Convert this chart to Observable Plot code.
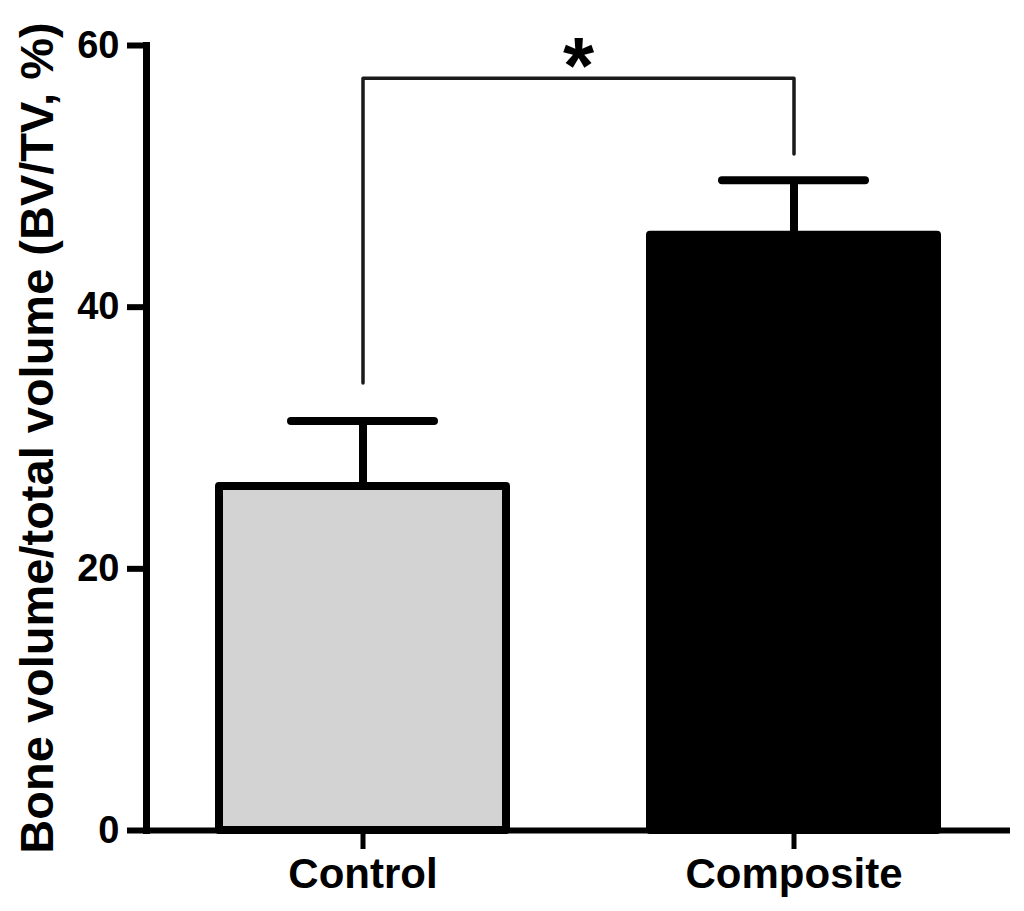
<!DOCTYPE html>
<html>
<head>
<meta charset="utf-8">
<script src="https://cdn.jsdelivr.net/npm/d3@7"></script>
<script src="https://cdn.jsdelivr.net/npm/@observablehq/plot@0.6"></script>
<style>
  html, body { margin: 0; padding: 0; background: #fff; }
</style>
</head>
<body>
<div id="chart"></div>
<script>
const groups = ["Control", "Composite"];
const means = [26.3, 45.5];
const errors = [5.0, 4.2];
const fills = ["#d3d3d3", "#000000"];
const yTicks = [0, 20, 40, 60];
const yLabel = "Bone volume/total volume (BV/TV, %)";
const bracketX = ["Control", "Control", "Composite", "Composite"];
const bracketY = [34.2, 57.5, 57.5, 51.7];
const sigLabel = "*";
const sigY = [58.3];

const bars = groups.map((g, i) => ({group: g, mean: means[i], top: means[i] + errors[i], fill: fills[i]}));
const bracket = bracketX.map((x, i) => ({x, y: bracketY[i]}));

const font = "'Liberation Sans', Arial, sans-serif";

const chart = Plot.plot({
  width: 1024,
  height: 911,
  marginLeft: 146,
  marginRight: 14,
  marginTop: 45,
  marginBottom: 81,
  style: {fontFamily: font, background: "#fff", color: "#000"},
  x: {domain: groups, paddingInner: 0.334, paddingOuter: 0.169, axis: null},
  y: {domain: [0, 60], axis: null},
  marks: [
    Plot.ruleX(bars, {x: "group", y1: "mean", y2: "top", stroke: "#000", strokeWidth: 8}),
    Plot.tickY(bars, {x: "group", y: "top", stroke: "#000", strokeWidth: 8, strokeLinecap: "round", insetLeft: 72, insetRight: 72}),
    Plot.barY(bars, {x: "group", y: "mean", fill: "fill", stroke: "#000", strokeWidth: 8, strokeLinejoin: "round"}),
    Plot.line(bracket, {x: "x", y: "y", stroke: "#1a1a1a", strokeWidth: 3.5}),
    Plot.text(sigY, {y: d => d, text: () => sigLabel, fontSize: 80, fontWeight: "bold", fill: "#000"}),
    Plot.ruleY([0], {stroke: "#000", strokeWidth: 6}),
    Plot.frame({anchor: "left", stroke: "#000", strokeWidth: 7}),
    Plot.axisY({ticks: yTicks, tickSize: 19, tickPadding: 8, fontSize: 38, fontWeight: "bold", strokeWidth: 6, label: null, tickFormat: d => String(d)}),
    Plot.axisX({tickSize: 19, tickPadding: 9, fontSize: 42, fontWeight: "bold", strokeWidth: 5, label: null}),
    Plot.text([yLabel], {frameAnchor: "left", dx: -94, rotate: -90, lineAnchor: "bottom", textAnchor: "middle", fontSize: 47, fontWeight: "bold", fill: "#000"})
  ]
});
document.getElementById("chart").appendChild(chart);
</script>
</body>
</html>
